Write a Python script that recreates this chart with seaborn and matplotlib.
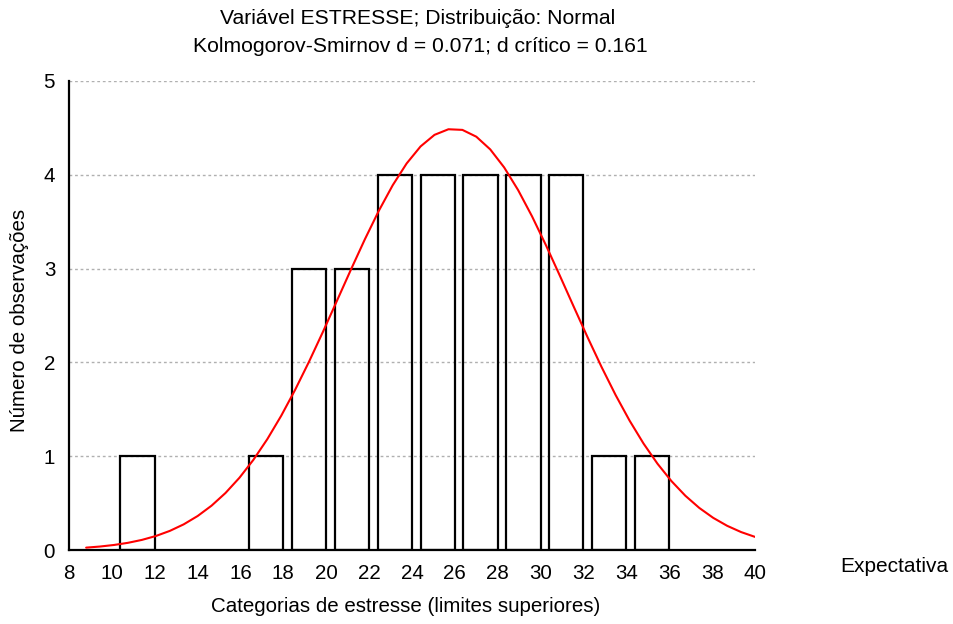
import numpy as np
import pandas as pd
import matplotlib
matplotlib.use("Agg")
import matplotlib.pyplot as plt
import seaborn as sns

# Histogram data: upper limits of stress categories and observed counts
upper_limits = [12, 18, 20, 22, 24, 26, 28, 30, 32, 34, 36]
counts = [1, 1, 3, 3, 4, 4, 4, 4, 4, 1, 1]
x_ticks = [8, 10, 12, 14, 16, 18, 20, 22, 24, 26, 28, 30, 32, 34, 36, 38, 40]
y_ticks = [0, 1, 2, 3, 4, 5]

# Fitted normal curve parameters (expected counts)
fit_mean = 25.96
fit_sd = 5.33
n_obs = 30
bin_width = 2.0

sns.set_theme(style="white", rc={"text.color": "black", "axes.labelcolor": "black",
                                 "xtick.color": "black", "ytick.color": "black"})
plt.rcParams['font.family'] = ['Liberation Sans', 'DejaVu Sans']

fig = plt.figure(figsize=(9.54, 6.24), dpi=100)
ax = fig.add_axes([69/954, 74/624, (755-69)/954, (550-81)/624])

df = pd.DataFrame({"centro": [u - 0.8 for u in upper_limits], "n": counts})
sns.barplot(data=df, x="centro", y="n", native_scale=True, width=0.8,
            fill=False, color="black", linewidth=1.6, ax=ax, zorder=3)

xs = np.linspace(8.8, 40, 49)
ys = n_obs * bin_width / (fit_sd * np.sqrt(2 * np.pi)) * np.exp(-0.5 * ((xs - fit_mean) / fit_sd) ** 2)
sns.lineplot(x=xs, y=ys, color="#ff0000", linewidth=1.5, ax=ax, zorder=4)

ax.set_xlim(8, 40)
ax.set_ylim(0, 5)
ax.set_xticks(x_ticks)
ax.set_yticks(y_ticks)
ax.set_xticklabels([str(t) for t in x_ticks])
ax.set_yticklabels([str(t) for t in y_ticks])
for y in y_ticks[1:]:
    ax.axhline(y, color="#b0b0b0", linestyle=(0, (2, 2)), linewidth=1.0, zorder=1)

for s in ["top", "right"]:
    ax.spines[s].set_visible(False)
for s in ["left", "bottom"]:
    ax.spines[s].set_color("black")
    ax.spines[s].set_linewidth(1.6)

ax.tick_params(axis="both", direction="in", length=4, width=1.2, colors="black",
               labelsize=14.8)
ax.tick_params(axis="x", pad=10)
ax.tick_params(axis="y", pad=10)
ax.set_xlabel("")
ax.set_ylabel("")

fig.text(406/954, 1 - 607/624, "Categorias de estresse (limites superiores)",
         ha="center", va="center", fontsize=14.8)
fig.text(20/954, 1 - 320/624, "Número de observações", rotation=90,
         ha="center", va="center", fontsize=14.8)

fig.text(418/954, 1 - 19/624, "Variável ESTRESSE; Distribuição: Normal",
         ha="center", va="center", fontsize=15.2)
fig.text(420/954, 1 - 47/624, "Kolmogorov-Smirnov d = 0.071; d crítico = 0.161",
         ha="center", va="center", fontsize=15.2)
fig.text(894/954, 1 - 567/624, "Expectativa", ha="center", va="center", fontsize=15)

fig.savefig("out.png", dpi=100)
